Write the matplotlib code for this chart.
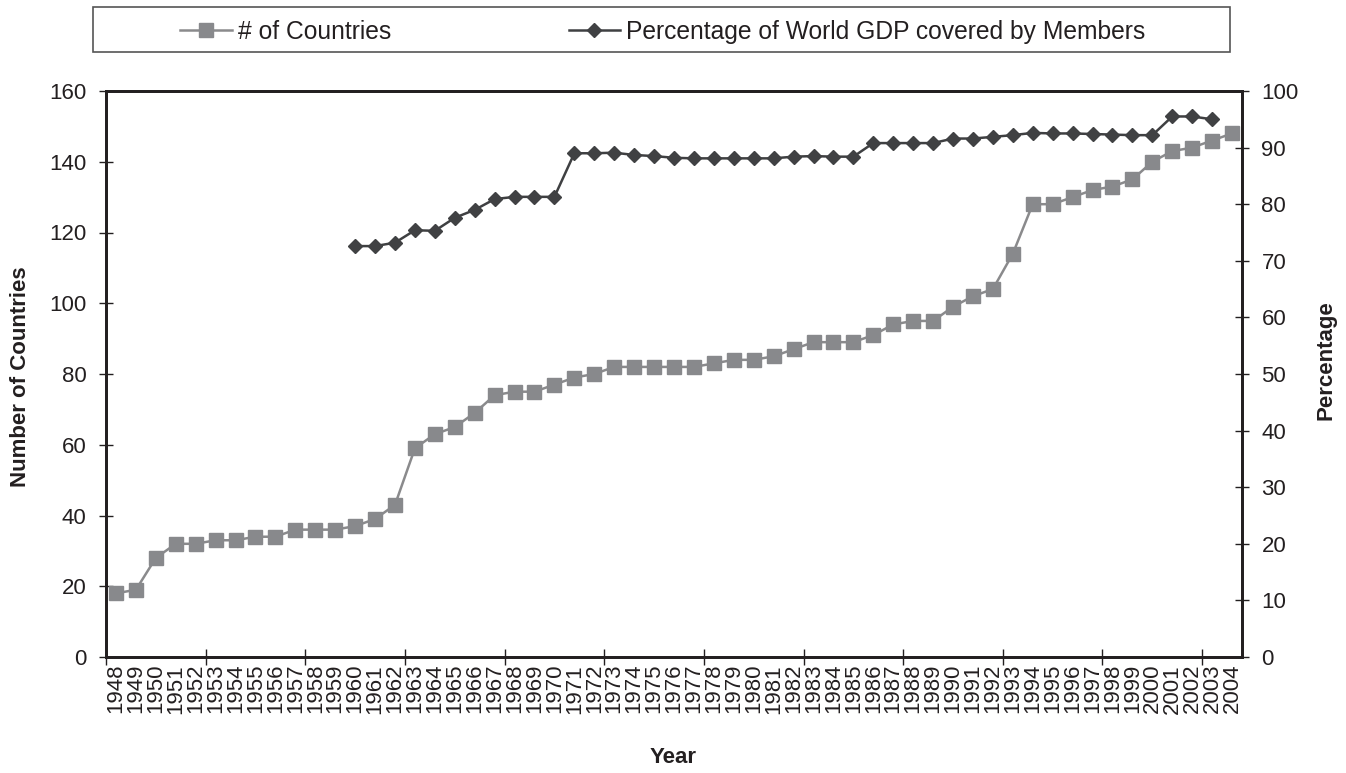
import matplotlib.pyplot as plt
import numpy as np
from matplotlib.patches import Rectangle

plt.rcParams['font.family'] = ['Liberation Sans', 'DejaVu Sans']

years = list(range(1948, 2005))
countries = [18, 19, 28, 32, 32, 33, 33, 34, 34, 36, 36, 36, 37, 39, 43, 59, 63, 65, 69, 74,
             75, 75, 77, 79, 80, 82, 82, 82, 82, 82, 83, 84, 84, 85, 87, 89, 89, 89, 91, 94,
             95, 95, 99, 102, 104, 114, 128, 128, 130, 132, 133, 135, 140, 143, 144, 146, 148]
nan = np.nan
gdp_share = [nan] * 12 + [
    72.6, 72.6, 73.2, 75.4, 75.3, 77.6, 79.0, 80.9,
    81.3, 81.3, 81.3,
    89.0, 89.0, 89.1, 88.7, 88.5, 88.2, 88.1, 88.1, 88.1, 88.1, 88.1,
    88.4, 88.5, 88.4, 88.4,
    90.8, 90.8, 90.8, 90.8,
    91.6, 91.6, 91.9, 92.2, 92.6, 92.5, 92.5, 92.4, 92.3, 92.2, 92.2,
    95.5, 95.5, 95.0, nan]

ink = '#231f20'
W, H = 1346, 773
fig = plt.figure(figsize=(W / 100, H / 100), dpi=100)
ax = fig.add_axes([106 / W, 1 - 657 / H, 1136 / W, 566 / H])
ax2 = ax.twinx()

x = np.arange(len(years))
l1, = ax.plot(x, countries, color='#8a8a8c', lw=1.8, marker='s', ms=10.3,
              mfc='#88898c', mec='#88898c', label='# of Countries')
l2, = ax2.plot(x, gdp_share, color='#3f4042', lw=1.8, marker='D', ms=7.2,
               mfc='#404143', mec='#404143',
               label='Percentage of World GDP covered by Members')

ax.set_xlim(-0.5, len(years) - 0.5)
ax.set_ylim(0, 160)
ax.set_yticks(np.arange(0, 161, 20))
ax2.set_ylim(0, 100)
ax2.set_yticks(np.arange(0, 101, 10))

# tick marks between every fifth year, year labels under each point
ax.set_xticks(np.arange(-0.5, len(years), 5))
ax.set_xticklabels([])
ax.set_xticks(x, minor=True)
ax.set_xticklabels(years, minor=True, rotation=90)
ax.tick_params(axis='x', which='minor', length=0, pad=5, labelsize=16, labelcolor=ink)
ax.tick_params(axis='x', which='major', direction='inout', length=12, width=1, color=ink)
for a in (ax, ax2):
    a.tick_params(axis='y', direction='inout', length=10, width=1, color=ink,
                  pad=9, labelsize=16, labelcolor=ink)
    for s in a.spines.values():
        s.set_linewidth(2)
        s.set_color(ink)

ax.set_ylabel('Number of Countries', fontsize=16, fontweight='bold', color=ink)
ax.yaxis.set_label_coords((31 - 106) / 1136, 0.495)
ax2.set_ylabel('Percentage', fontsize=16, fontweight='bold', color=ink)
ax2.yaxis.set_label_coords((1315 - 106) / 1136, 0.525)
ax.set_xlabel('Year', fontsize=16, fontweight='bold', color=ink)
ax.xaxis.set_label_coords(0.499, (657 - 747) / 566)

fig.legend(handles=[l1, l2], loc='center', bbox_to_anchor=(663 / W, 1 - 32 / H),
           ncol=2, frameon=False, fontsize=17.7, handlelength=2.1,
           handletextpad=0.25, columnspacing=7.2, labelcolor=ink)
fig.patches.append(Rectangle((93 / W, 1 - 52 / H), 1137 / W, 45 / H,
                             transform=fig.transFigure, fill=False,
                             edgecolor='#555555', lw=1.2))

fig.savefig('out.png', dpi=100)
